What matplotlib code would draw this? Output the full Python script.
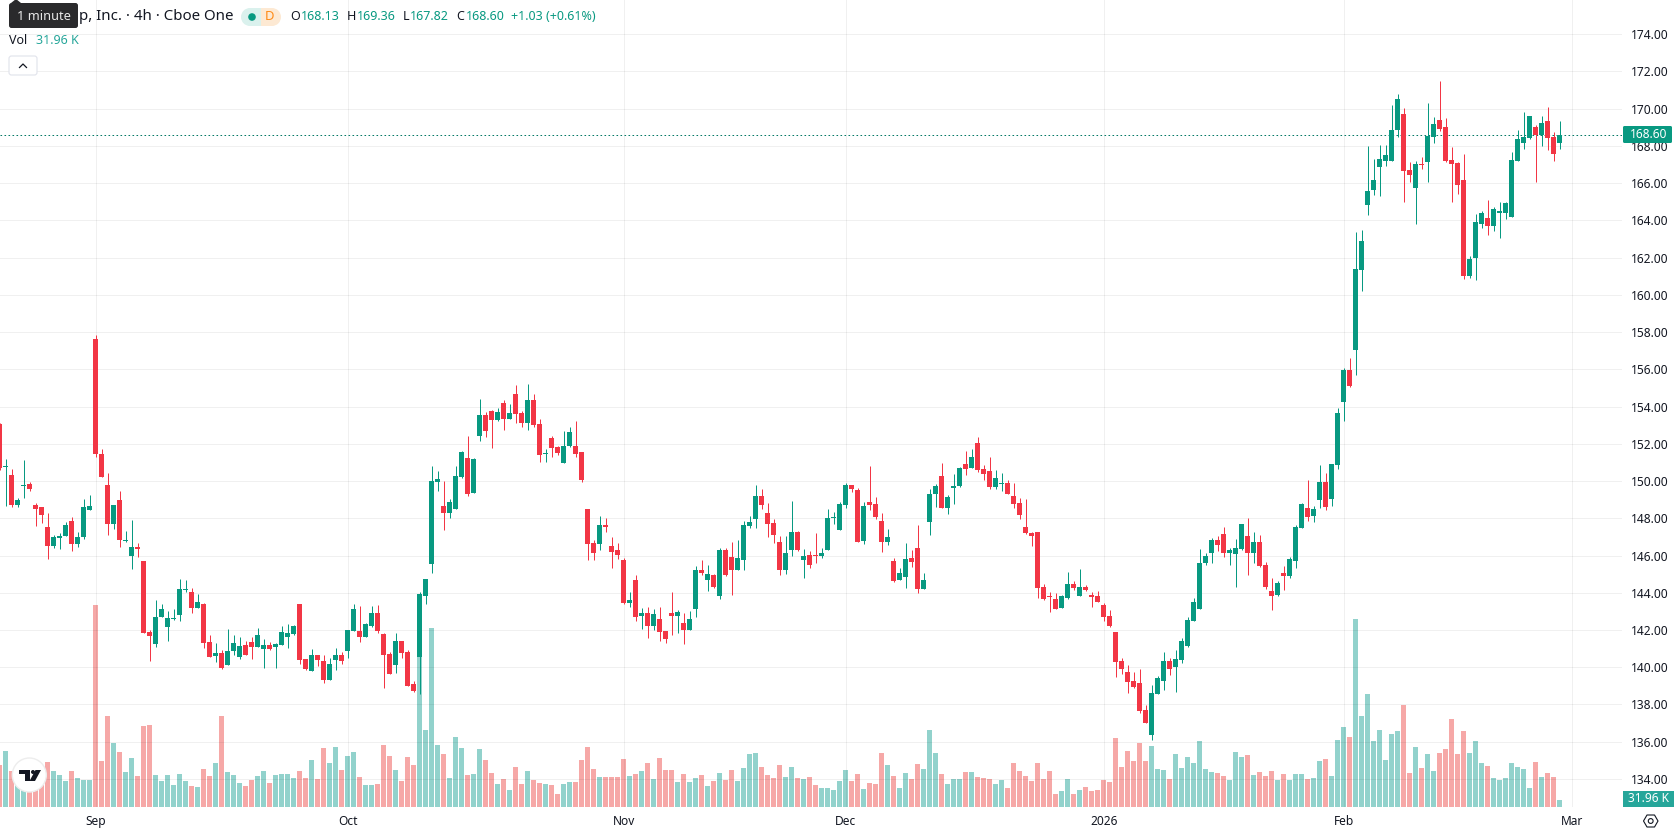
import matplotlib
matplotlib.use("Agg")
import matplotlib.pyplot as plt
from matplotlib.patches import Circle, FancyBboxPatch, Polygon, Rectangle

plt.rcParams["font.family"] = ["Noto Sans", "DejaVu Sans"]

GREEN = "#089981"
RED = "#F23645"
VOL_GREEN = "#26A69A"
VOL_RED = "#EF5350"
TEXT = "#131722"

opens = [
    153.08, 150.77, 150.34, 148.73, 149.75, 149.86, 148.73, 148.62, 147.55, 146.53,
    146.96, 147.06, 147.87, 146.63, 147.01, 148.46, 157.64, 151.47, 149.80, 147.71,
    149.00, 146.80, 145.99, 146.47, 145.72, 141.91, 141.26, 142.71, 142.18, 142.61,
    142.82, 144.16, 144.06, 143.20, 143.41, 141.37, 140.62, 140.78, 140.14, 140.89,
    140.56, 141.21, 141.37, 141.10, 140.99, 141.21, 141.10, 141.21, 141.64, 141.80,
    143.41, 140.46, 139.81, 140.67, 140.35, 139.33, 140.40, 140.67, 140.89, 141.96,
    141.96, 141.64, 142.23, 142.93, 141.80, 140.73, 140.14, 141.42, 140.83, 139.12,
    140.56, 143.84, 145.56, 149.96, 148.67, 148.30, 148.51, 150.23, 151.25, 149.37,
    152.43, 153.56, 153.78, 153.29, 154.20, 153.35, 154.69, 153.67, 153.13, 154.33,
    153.08, 151.47, 152.33, 151.84, 150.98, 151.90, 151.90, 151.57, 148.51, 146.69,
    146.63, 147.65, 146.53, 146.31, 145.77, 143.47, 144.70, 142.77, 142.93, 142.23,
    142.61, 141.96, 142.93, 142.77, 142.39, 142.01, 143.14, 145.24, 144.70, 144.97,
    143.84, 146.31, 145.93, 145.24, 145.77, 147.60, 147.98, 149.21, 148.30, 147.76,
    146.74, 145.24, 146.31, 147.28, 145.77, 146.01, 146.01, 145.95, 146.28, 147.99,
    147.35, 148.69, 149.77, 149.50, 146.76, 148.85, 148.75, 147.83, 146.70, 145.68,
    144.66, 144.82, 145.85, 146.38, 144.18, 147.78, 149.28, 150.25, 148.53, 149.60,
    149.71, 150.89, 150.68, 152.02, 150.62, 150.52, 149.66, 149.82, 149.87, 149.17,
    148.80, 147.51, 147.19, 147.24, 144.29, 143.80, 143.64, 143.16, 143.70, 144.45,
    143.80, 144.29, 143.86, 143.80, 143.32, 142.73, 141.87, 140.31, 139.72, 139.24,
    139.13, 137.68, 136.34, 138.54, 139.24, 140.31, 139.99, 140.37, 141.12, 142.46,
    143.11, 145.58, 146.11, 146.81, 147.15, 146.13, 146.08, 146.35, 147.05, 146.13,
    146.72, 145.49, 144.09, 143.88, 145.06, 144.90, 145.70, 147.47, 148.55, 148.12,
    148.98, 149.95, 149.03, 150.86, 154.26, 155.98, 157.06, 161.35, 164.84, 165.65,
    166.88, 167.21, 167.21, 168.87, 169.73, 166.72, 165.76, 167.05, 167.15, 168.50,
    169.41, 169.03, 167.26, 167.10, 166.19, 161.03, 162.00, 163.82, 164.15, 163.72,
    164.41, 164.41, 164.20, 167.21, 168.17, 168.44, 169.03, 168.60, 169.35, 168.50,
    168.13,
]
highs = [
    153.10, 151.20, 150.66, 149.10, 151.14, 149.96, 148.83, 148.62, 148.30, 147.12,
    147.22, 147.81, 148.08, 147.28, 149.05, 149.26, 157.85, 151.73, 150.45, 148.73,
    149.48, 147.33, 147.92, 146.69, 145.72, 142.01, 143.63, 143.41, 143.03, 143.14,
    144.75, 144.70, 144.27, 143.95, 143.47, 141.75, 141.32, 140.94, 142.07, 141.75,
    141.64, 141.42, 141.64, 142.12, 141.53, 141.37, 141.32, 142.23, 142.34, 142.28,
    143.41, 140.46, 140.99, 140.67, 140.67, 140.51, 141.05, 140.83, 142.01, 143.41,
    143.30, 142.39, 143.30, 143.36, 141.85, 140.83, 141.85, 141.42, 140.94, 139.28,
    144.06, 144.75, 150.82, 150.55, 150.02, 149.05, 150.82, 151.63, 152.43, 151.25,
    154.42, 153.72, 153.83, 153.94, 154.33, 154.15, 155.17, 153.78, 155.23, 154.69,
    153.35, 151.73, 152.43, 151.90, 152.70, 152.92, 153.24, 151.57, 148.51, 146.85,
    148.14, 148.03, 147.01, 146.69, 145.88, 144.06, 144.97, 143.20, 143.25, 143.14,
    143.25, 141.96, 144.06, 143.09, 142.93, 143.03, 145.45, 145.77, 145.51, 145.02,
    146.42, 146.42, 146.74, 146.85, 147.87, 148.14, 149.80, 149.59, 148.83, 147.98,
    147.06, 147.06, 148.94, 147.33, 146.36, 146.22, 147.19, 146.38, 148.48, 148.32,
    148.85, 149.87, 149.77, 149.60, 148.85, 150.79, 149.12, 148.26, 147.40, 145.85,
    145.31, 146.65, 146.28, 147.62, 145.04, 149.55, 149.82, 150.95, 149.23, 150.36,
    150.73, 151.59, 151.70, 152.34, 150.84, 151.27, 150.57, 150.41, 150.03, 149.87,
    149.07, 149.01, 147.29, 147.24, 144.45, 144.02, 143.97, 143.86, 145.09, 144.61,
    145.25, 144.40, 144.02, 144.07, 143.43, 143.05, 141.87, 140.47, 140.10, 139.72,
    139.88, 137.95, 139.02, 139.51, 140.80, 140.47, 140.90, 141.55, 142.68, 143.70,
    146.33, 146.11, 146.92, 147.03, 147.53, 146.40, 146.88, 147.69, 148.01, 147.26,
    147.10, 145.65, 144.79, 144.63, 145.44, 145.92, 147.63, 148.82, 150.05, 148.66,
    150.86, 150.43, 150.91, 153.92, 156.09, 156.63, 163.39, 163.50, 168.01, 167.31,
    168.07, 168.07, 170.21, 170.80, 170.05, 167.15, 167.21, 167.42, 170.32, 169.57,
    171.50, 169.52, 167.96, 167.15, 167.58, 162.10, 164.36, 164.52, 165.11, 164.74,
    165.00, 165.00, 167.69, 168.87, 169.84, 169.62, 169.14, 169.62, 170.11, 168.76,
    169.36,
]
lows = [
    150.60, 148.67, 148.62, 148.62, 149.10, 149.48, 147.60, 147.76, 145.83, 146.42,
    146.36, 147.06, 146.26, 146.47, 146.90, 148.46, 151.31, 150.23, 147.12, 147.44,
    146.47, 146.74, 145.29, 145.93, 141.85, 140.35, 141.10, 142.71, 141.42, 142.55,
    142.50, 144.06, 142.93, 143.20, 141.05, 140.56, 140.30, 139.92, 140.14, 140.67,
    140.46, 140.67, 140.46, 141.10, 139.97, 140.94, 139.97, 141.21, 141.05, 141.75,
    140.19, 139.87, 139.81, 140.08, 139.17, 139.33, 139.87, 140.19, 140.51, 141.96,
    141.37, 141.64, 142.18, 141.85, 138.90, 139.65, 139.71, 140.51, 139.01, 138.69,
    138.58, 143.41, 145.08, 149.48, 147.38, 148.03, 148.51, 150.18, 149.21, 149.37,
    152.16, 152.38, 151.79, 153.24, 152.75, 153.35, 153.13, 152.92, 152.75, 152.92,
    151.04, 151.04, 151.31, 151.41, 150.98, 151.84, 151.31, 149.96, 145.77, 145.77,
    146.31, 147.28, 145.34, 145.83, 143.41, 143.25, 142.50, 142.07, 141.59, 142.01,
    141.42, 141.32, 141.75, 141.85, 141.26, 142.01, 142.71, 144.97, 144.11, 144.27,
    143.68, 144.92, 143.89, 145.24, 145.24, 147.49, 147.49, 148.51, 147.01, 146.69,
    144.97, 145.02, 145.99, 146.26, 144.81, 145.31, 145.58, 145.85, 146.28, 147.67,
    147.35, 148.53, 149.39, 146.70, 146.60, 148.42, 147.94, 146.17, 146.54, 144.56,
    144.66, 144.23, 145.36, 143.97, 144.18, 147.08, 148.58, 148.53, 148.21, 148.75,
    149.66, 150.30, 150.68, 150.46, 150.03, 149.55, 149.55, 149.44, 149.28, 148.53,
    147.94, 147.13, 146.49, 143.70, 143.59, 142.99, 143.11, 143.16, 143.64, 144.13,
    143.80, 144.07, 143.21, 143.48, 142.46, 142.14, 139.45, 139.62, 138.60, 138.86,
    137.52, 136.98, 136.07, 138.54, 138.76, 139.56, 138.65, 140.21, 141.07, 142.46,
    143.11, 145.47, 145.58, 146.22, 145.92, 145.49, 144.31, 146.29, 144.95, 145.59,
    145.38, 144.20, 143.07, 143.83, 144.15, 144.79, 145.33, 147.47, 147.85, 147.80,
    148.55, 148.44, 148.66, 150.64, 153.24, 155.07, 155.71, 160.23, 164.31, 165.38,
    165.33, 166.94, 167.21, 168.50, 165.00, 166.08, 163.82, 166.78, 166.08, 168.17,
    168.82, 167.15, 165.00, 165.43, 160.87, 160.92, 160.82, 163.61, 163.23, 163.45,
    163.07, 164.09, 164.20, 167.21, 167.85, 168.39, 166.08, 168.01, 167.80, 167.21,
    167.82,
]
closes = [
    150.71, 150.82, 148.73, 149.00, 149.80, 149.59, 148.51, 148.19, 146.53, 147.01,
    147.06, 147.65, 146.63, 147.01, 148.62, 148.67, 151.47, 150.23, 147.71, 148.73,
    146.85, 146.85, 146.47, 146.36, 141.85, 141.69, 142.71, 143.14, 142.66, 142.66,
    144.22, 144.22, 143.20, 143.52, 141.32, 140.56, 140.78, 139.97, 140.89, 141.32,
    141.16, 140.67, 141.10, 141.75, 141.21, 140.99, 141.26, 141.91, 141.85, 142.23,
    140.40, 139.92, 140.67, 140.40, 139.33, 140.19, 140.67, 140.35, 142.01, 143.14,
    141.64, 142.34, 142.93, 141.96, 140.67, 139.65, 141.42, 140.78, 139.01, 138.74,
    143.95, 144.75, 150.02, 150.12, 148.30, 148.89, 150.28, 151.57, 149.32, 151.20,
    153.56, 152.70, 153.29, 153.72, 153.35, 153.67, 153.61, 153.13, 154.33, 153.02,
    151.41, 151.52, 151.79, 151.52, 151.90, 152.65, 151.47, 150.07, 146.63, 146.15,
    147.65, 147.55, 146.20, 146.04, 143.47, 143.63, 142.71, 142.93, 142.23, 142.87,
    141.91, 141.53, 142.77, 142.98, 142.01, 142.61, 145.24, 145.08, 145.02, 144.32,
    146.31, 144.97, 145.24, 145.88, 147.65, 147.81, 149.21, 148.73, 147.71, 147.12,
    145.24, 146.15, 147.28, 146.31, 145.99, 145.47, 145.95, 146.11, 147.99, 148.05,
    148.75, 149.77, 149.55, 146.70, 148.64, 148.69, 148.05, 146.70, 146.97, 144.61,
    145.04, 145.79, 145.63, 144.18, 144.66, 149.33, 149.71, 148.53, 149.12, 149.71,
    150.68, 150.62, 151.27, 150.57, 150.36, 149.66, 150.14, 149.87, 149.33, 148.75,
    148.15, 147.19, 147.03, 144.23, 143.64, 143.75, 143.11, 143.80, 144.45, 144.23,
    144.29, 144.13, 143.75, 143.48, 142.68, 142.19, 140.26, 139.88, 139.19, 138.92,
    137.63, 136.98, 138.59, 139.40, 140.31, 139.88, 140.42, 141.39, 142.52, 143.48,
    145.58, 145.95, 146.81, 146.54, 146.13, 146.29, 146.40, 147.69, 146.13, 146.72,
    145.43, 144.31, 143.83, 144.52, 144.90, 145.81, 147.53, 148.76, 148.07, 148.50,
    149.95, 148.60, 150.91, 153.65, 155.98, 155.12, 161.41, 162.91, 165.60, 166.19,
    167.31, 167.53, 168.87, 170.54, 166.67, 166.45, 167.05, 166.99, 168.55, 169.19,
    168.92, 167.21, 167.05, 165.92, 161.03, 161.94, 163.93, 164.41, 163.72, 164.63,
    164.52, 164.95, 167.26, 168.39, 168.50, 169.62, 168.60, 169.25, 168.44, 167.58,
    168.60,
]
# volume in thousands of shares
volumes = [
    189, 252, 162, 135, 120, 105, 128, 142, 202, 162,
    144, 117, 162, 130, 122, 122, 909, 207, 410, 288,
    248, 158, 220, 140, 364, 369, 144, 117, 144, 99,
    148, 117, 94, 90, 171, 140, 198, 410, 158, 144,
    108, 94, 122, 140, 162, 108, 144, 148, 148, 130,
    162, 130, 212, 126, 266, 198, 270, 166, 230, 248,
    135, 99, 99, 104, 279, 230, 166, 117, 225, 189,
    676, 346, 806, 279, 238, 130, 315, 266, 144, 148,
    261, 212, 153, 104, 126, 76, 180, 104, 162, 122,
    108, 104, 99, 58, 104, 112, 112, 212, 270, 171,
    135, 135, 135, 135, 216, 140, 148, 162, 198, 126,
    220, 166, 166, 112, 148, 112, 130, 144, 94, 117,
    153, 122, 166, 117, 176, 238, 243, 180, 144, 130,
    189, 135, 180, 130, 126, 135, 99, 86, 86, 76,
    117, 166, 117, 148, 81, 108, 104, 243, 189, 140,
    86, 153, 126, 194, 171, 346, 243, 148, 104, 126,
    126, 158, 158, 135, 130, 126, 104, 122, 86, 198,
    162, 140, 117, 198, 126, 162, 58, 72, 126, 58,
    76, 90, 72, 76, 122, 112, 310, 180, 252, 207,
    288, 207, 274, 171, 166, 126, 238, 176, 225, 198,
    297, 171, 158, 153, 140, 122, 248, 225, 234, 144,
    158, 140, 162, 122, 148, 122, 148, 148, 126, 130,
    207, 216, 140, 302, 360, 315, 846, 410, 508, 297,
    346, 212, 328, 342, 459, 153, 270, 176, 238, 162,
    243, 261, 396, 238, 342, 243, 297, 198, 184, 130,
    122, 130, 198, 180, 171, 86, 202, 135, 153, 135,
    31.96,
]
price_ticks = [134, 136, 138, 140, 142, 144, 146, 148, 150, 152, 154, 156, 158, 160, 162, 164, 166, 168, 170, 172, 174]
date_ticks = [16, 58, 104, 141, 184, 224, 262]
date_labels = ["Sep", "Oct", "Nov", "Dec", "2026", "Feb", "Mar"]

W, H = 1678, 835
PLOT_RIGHT, PLOT_BOTTOM = 1622, 807
STEP = 6.0       # pixels per bar
PX_PER_UNIT = 18.62
PX_PER_VOL = 1 / 4.5
Y_172 = 71.4     # pixel row of the 172.00 level

fig = plt.figure(figsize=(W / 100, H / 100), dpi=100)
ax = fig.add_axes([0, (H - PLOT_BOTTOM) / H, PLOT_RIGHT / W, PLOT_BOTTOM / H])
ax_vol = ax.twinx()
ax.set_zorder(ax_vol.get_zorder() + 1)
ax.patch.set_visible(False)

x = list(range(len(closes)))
up = [c >= o for o, c in zip(opens, closes)]

# volume bars sit behind the candles
ax_vol.bar(x, volumes, width=5 / STEP, color=[VOL_GREEN if u else VOL_RED for u in up], alpha=0.5, linewidth=0)
ax_vol.set_ylim(0, PLOT_BOTTOM / PX_PER_VOL)
ax_vol.set_yticks([])

colors = [GREEN if u else RED for u in up]
ax.vlines(x, lows, highs, colors=colors, linewidth=0.72, zorder=3, snap=True)
body_low = [min(o, c) for o, c in zip(opens, closes)]
body_h = [max(abs(c - o), 1 / PX_PER_UNIT) for o, c in zip(opens, closes)]
ax.bar(x, body_h, bottom=body_low, width=5 / STEP, color=colors, linewidth=0, zorder=4)

# dotted last-price line, the dots run a little wide so they hold up when scaled
ax.axhline(closes[-1], color="#067A67", linewidth=0.72, linestyle=(0, (1.6, 2.4)), zorder=2)

ax.set_xlim(0.33 / STEP, (PLOT_RIGHT + 0.33) / STEP)
ax.set_ylim(172 - (PLOT_BOTTOM - Y_172) / PX_PER_UNIT, 172 + Y_172 / PX_PER_UNIT)
ax.set_yticks(price_ticks)
ax.set_yticklabels([f"{p:.2f}" for p in price_ticks], color=TEXT, fontsize=8.6)
ax.yaxis.tick_right()
ax.set_xticks(date_ticks)
ax.set_xticklabels(date_labels, color=TEXT, fontsize=8.6)
ax.get_xticklabels()[date_labels.index("2026")].set_fontweight("bold")
ax.tick_params(axis="both", length=0)
ax.tick_params(axis="y", pad=6.5)
ax.tick_params(axis="x", pad=5.5)
ax.grid(True, color="black", alpha=0.06, linewidth=0.72)
ax.set_axisbelow(True)
for a in (ax, ax_vol):
    for s in a.spines.values():
        s.set_visible(False)

# overlay in pixel coordinates for the header, badges and watermark
ov = fig.add_axes([0, 0, 1, 1], zorder=10)
ov.set_xlim(0, W)
ov.set_ylim(H, 0)
ov.axis("off")
ov.patch.set_visible(False)


def label(px, py, s, color=TEXT, size=9.4, ha="left", **kw):
    ov.text(px, py, s, color=color, fontsize=size, ha=ha, va="center", **kw)


label(79, 16, "p, Inc. · 4h · Cboe One", size=10.8)

# market status pill
ov.add_patch(Circle((250, 17), 9, fc="#DAF1ED", ec="none"))
ov.add_patch(Rectangle((250, 8), 11, 18, fc="#DAF1ED", ec="none"))
ov.add_patch(Rectangle((261, 8), 11, 18, fc="#FDE9D3", ec="none"))
ov.add_patch(Circle((272, 17), 9, fc="#FDE9D3", ec="none"))
ov.add_patch(Circle((252, 17), 3.8, fc=GREEN, ec="none"))
label(270, 17, "D", color="#FF8A15", size=9.4, ha="center")

for px, s, col in [
    (290, "O", TEXT), (301, f"{opens[-1]:.2f}", GREEN),
    (347, "H", TEXT), (357, f"{highs[-1]:.2f}", GREEN),
    (402.5, "L", TEXT), (410, f"{lows[-1]:.2f}", GREEN),
    (456.7, "C", TEXT), (466, f"{closes[-1]:.2f}", GREEN),
    (511, "+1.03 (+0.61%)", GREEN),
]:
    label(px, 17, s, color=col, size=9.0)

label(9, 40.5, "Vol", size=9.0)
label(36, 40.5, f"{volumes[-1]:.2f} K", color=VOL_GREEN, size=9.0)

# collapse button
ov.add_patch(FancyBboxPatch((9, 56), 28, 19, boxstyle="round,pad=0,rounding_size=2.5", fc="white", ec="#E0E3EB", lw=0.8))
ov.plot([19.5, 23, 26.5], [67.5, 64, 67.5], color=TEXT, lw=0.9)

# tooltip over the symbol name
ov.add_patch(FancyBboxPatch((9, 3), 69, 25, boxstyle="round,pad=0,rounding_size=2.5", fc="#2A2A2C", ec="none"))
ov.add_patch(Polygon([[11, 3], [16, -1], [21, 3]], fc="#2A2A2C", ec="none"))
label(43.5, 16, "1 minute", color="#E8E8E8", size=9.2, ha="center")

# last price and last volume badges
ov.add_patch(FancyBboxPatch((1623, 126), 49, 17, boxstyle="round,pad=0,rounding_size=1.5", fc=GREEN, ec="none"))
label(1648.5, 134.5, f"{closes[-1]:.2f}", color="white", size=8.6, ha="center")
ov.add_patch(Rectangle((1623, 791), 51, 16, fc=VOL_GREEN, ec="none"))
label(1648.5, 799, f"{volumes[-1]:.2f} K", color="white", size=8.6, ha="center")

# axis settings icon
ov.add_patch(Polygon([[1643.5, 821], [1647, 815], [1654.5, 815], [1658, 821], [1654.5, 827], [1647, 827]],
                     fc="white", ec=TEXT, lw=0.8))
ov.add_patch(Circle((1650.7, 821), 2.4, fc="white", ec=TEXT, lw=0.8))

# watermark
ov.add_patch(Circle((29.3, 775), 17, fc="white", ec="#EDEDED", lw=1.0))
ov.add_patch(Polygon([[19, 770], [30, 770], [30, 781], [24.5, 781], [24.5, 774], [19, 774]], fc="#131722", ec="none"))
ov.add_patch(Circle((33, 772), 2.0, fc="#131722", ec="none"))
ov.add_patch(Polygon([[35.5, 770], [41, 770], [35, 781], [29.5, 781]], fc="#131722", ec="none"))

fig.savefig("out.png", dpi=100, facecolor="white")
